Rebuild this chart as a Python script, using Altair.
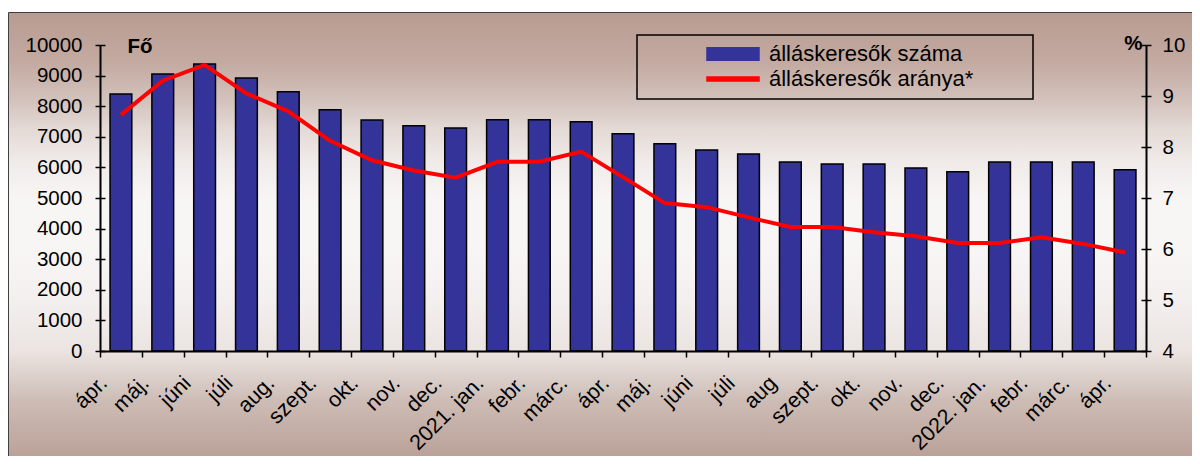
import json
import altair as alt
import pandas as pd

# ---- data ----
months = ["ápr.", "máj.", "júni", "júli", "aug.", "szept.", "okt.", "nov.", "dec.",
          "2021. jan.", "febr.", "márc.", "ápr.", "máj.", "júni", "júli", "aug", "szept.",
          "okt.", "nov.", "dec.", "2022. jan.", "febr.", "márc.", "ápr."]
jobseekers = [8400, 9050, 9380, 8920, 8470, 7880, 7550, 7360, 7290, 7560, 7560, 7490,
              7100, 6770, 6570, 6440, 6180, 6110, 6110, 5980, 5860, 6180, 6180, 6180, 5920]
rate = [8.63, 9.30, 9.61, 9.05, 8.70, 8.12, 7.74, 7.54, 7.40, 7.71, 7.71, 7.91,
        7.41, 6.90, 6.82, 6.62, 6.43, 6.43, 6.33, 6.25, 6.12, 6.12, 6.23, 6.10, 5.93]
left_ticks = [0, 1000, 2000, 3000, 4000, 5000, 6000, 7000, 8000, 9000, 10000]
right_ticks = [4, 5, 6, 7, 8, 9, 10]
series = ["álláskeresők száma", "álláskeresők aránya*"]
series_colors = ["#333399", "#ff0000"]

FONT = "Liberation Sans"
FS = 20.5
W, H = 1046, 306

df = pd.DataFrame({"idx": list(range(len(months))), "month": months,
                   "count": jobseekers, "rate": rate})

label_expr = "[" + ",".join(json.dumps(m, ensure_ascii=False) for m in months) + "][datum.value]"

X = alt.X("idx:O", title=None,
          scale=alt.Scale(paddingInner=0, paddingOuter=0),
          axis=alt.Axis(labelExpr=label_expr, labelAngle=-45, labelAlign="right",
                        labelBaseline="alphabetic", labelOffset=-13, labelPadding=27,
                        labelFont=FONT, labelFontSize=21.5, labelColor="black",
                        labelOverlap=False, tickBand="extent", tickSize=6,
                        tickColor="black", tickWidth=1.5, domainColor="black",
                        domainWidth=2, grid=False, zindex=1))

left_scale = alt.Scale(domain=[0, 10000], nice=False, zero=True)
right_scale = alt.Scale(domain=[4, 10], nice=False, zero=False)

is_bar = "datum.value === '%s'" % series[0]
legend = alt.Legend(
    title=None, orient="none", legendX=607, legendY=-5, padding=0,
    labelFont=FONT, labelFontSize=22, labelColor="black", labelOffset=22, labelLimit=0,
    symbolType={"expr": is_bar + " ? 'M-2,-0.48H2V0.48H-2Z' : 'M-2,-0.15H2V0.15H-2Z'"},
    symbolFillColor={"expr": is_bar + " ? '%s' : '%s'" % (series_colors[0], series_colors[1])},
    symbolStrokeColor={"expr": is_bar + " ? '#000000' : '%s'" % series_colors[1]},
    symbolSize=676, symbolOffset=12, symbolStrokeWidth=1.5, symbolOpacity=1,
    rowPadding=0, zindex=1)

color_scale = alt.Scale(domain=series, range=series_colors)
COLOR = alt.Color("series:N", scale=color_scale, legend=legend, sort=series)

left_axis = alt.Axis(values=left_ticks, format="d", orient="left", grid=False, tickSize=5,
                     tickColor="black", tickWidth=1.5, domainColor="black", domainWidth=2,
                     labelFont=FONT, labelFontSize=FS, labelColor="black", labelPadding=13,
                     title="Fő", titleAngle=0, titleAlign="left", titleBaseline="alphabetic",
                     titleX=27, titleY=7, titleFont=FONT, titleFontSize=FS,
                     titleFontWeight="bold", titleColor="black", zindex=1)
left_inner = alt.Axis(values=left_ticks, orient="left", offset=-5, grid=False, tickSize=5,
                      tickColor="black", tickWidth=1.5, domain=False, labels=False, title=None,
                      zindex=1)
right_axis = alt.Axis(values=right_ticks, format="d", orient="right", grid=False, tickSize=5,
                      tickColor="black", tickWidth=1.5, domainColor="black", domainWidth=2,
                      labelFont=FONT, labelFontSize=FS, labelColor="black", labelPadding=11,
                      title="%", titleAngle=0, titleAlign="right", titleBaseline="alphabetic",
                      titleX=-4, titleY=4, titleFont=FONT, titleFontSize=FS,
                      titleFontWeight="bold", titleColor="black", zindex=1)
right_inner = alt.Axis(values=right_ticks, orient="right", offset=-5, grid=False, tickSize=5,
                       tickColor="black", tickWidth=1.5, domain=False, labels=False, title=None,
                       zindex=1)

base = alt.Chart(df)

bars = base.transform_calculate(series=json.dumps(series[0], ensure_ascii=False)).mark_bar(
    width=alt.RelativeBandSize(0.52), stroke="black", strokeWidth=1.5).encode(
    x=X,
    y=alt.Y("count:Q", scale=left_scale, axis=left_axis),
    color=COLOR,
)
bars_ticks = base.mark_point(opacity=0).encode(
    x=X, y=alt.Y("count:Q", scale=left_scale, axis=left_inner))

line = base.transform_calculate(series=json.dumps(series[1], ensure_ascii=False)).mark_line(
    strokeWidth=4).encode(
    x=X,
    y=alt.Y("rate:Q", scale=right_scale, axis=right_axis),
    color=COLOR,
)
line_ticks = base.mark_point(opacity=0).encode(
    x=X, y=alt.Y("rate:Q", scale=right_scale, axis=right_inner))

left_layer = alt.layer(bars, bars_ticks).resolve_axis(y="independent")
right_layer = alt.layer(line, line_ticks).resolve_axis(y="independent")

# decorative frame with the brownish vertical gradient
gradient = {
    "gradient": "linear", "x1": 0, "y1": 0, "x2": 0, "y2": 1,
    "stops": [
        {"offset": 0.0, "color": "#b89b91"},
        {"offset": 0.11, "color": "#c3aaa1"},
        {"offset": 0.2, "color": "#d4c4be"},
        {"offset": 0.26, "color": "#e4dad6"},
        {"offset": 0.33, "color": "#f0ebe9"},
        {"offset": 0.42, "color": "#f8f6f5"},
        {"offset": 0.52, "color": "#f8f6f5"},
        {"offset": 0.64, "color": "#f3efee"},
        {"offset": 0.75, "color": "#ebe4e1"},
        {"offset": 0.86, "color": "#cdbcb5"},
        {"offset": 1.0, "color": "#b89e95"},
    ],
}
one = pd.DataFrame({"k": [0]})
frame = alt.Chart(one).mark_rect(fill=gradient, stroke="#404040", strokeWidth=1).encode(
    x=alt.value(-91.5), x2=alt.value(W + 70), y=alt.value(-32.5), y2=alt.value(419))
legend_box = alt.Chart(one).mark_rect(fillOpacity=0, stroke="black", strokeWidth=1.5).encode(
    x=alt.value(537), x2=alt.value(933), y=alt.value(-10), y2=alt.value(54))

chart = alt.layer(frame, left_layer, right_layer, legend_box).resolve_scale(
    y="independent"
).properties(
    width=W, height=H,
    autosize=alt.AutoSizeParams(type="none"),
    padding={"left": 92, "top": 37, "right": 46, "bottom": 105},
).configure(background="white").configure_view(stroke=None)

chart.save("out.html", embed_options={"renderer": "svg", "actions": False})
